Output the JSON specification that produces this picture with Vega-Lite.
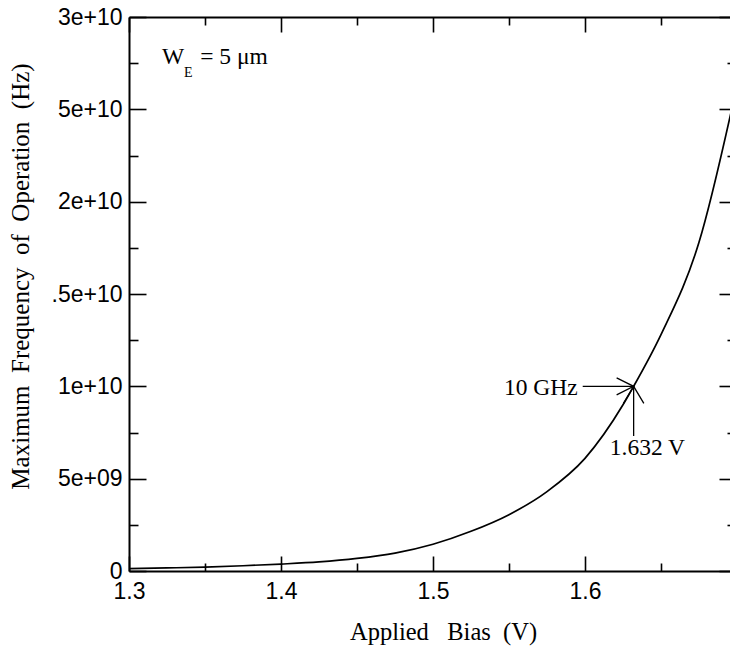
{
  "$schema": "https://vega.github.io/schema/vega-lite/v6.json",
  "width": 601,
  "height": 554,
  "autosize": {"type": "none"},
  "padding": {"left": 129, "top": 17, "right": 0, "bottom": 76},
  "background": "white",
  "config": {
    "view": {"stroke": null},
    "axis": {
      "domainColor": "black",
      "domainWidth": 2,
      "tickColor": "black",
      "tickWidth": 1.6,
      "labelColor": "black",
      "titleColor": "black",
      "grid": false,
      "labelFlush": false,
      "labelOverlap": false,
      "labelBound": false
    }
  },
  "datasets": {
    "curve": [
      {"bias": 1.300, "freq": 1.25e8},
      {"bias": 1.325, "freq": 1.65e8},
      {"bias": 1.350, "freq": 2.15e8},
      {"bias": 1.375, "freq": 2.85e8},
      {"bias": 1.400, "freq": 3.75e8},
      {"bias": 1.425, "freq": 4.90e8},
      {"bias": 1.450, "freq": 6.80e8},
      {"bias": 1.475, "freq": 9.70e8},
      {"bias": 1.500, "freq": 1.45e9},
      {"bias": 1.525, "freq": 2.15e9},
      {"bias": 1.550, "freq": 3.05e9},
      {"bias": 1.575, "freq": 4.30e9},
      {"bias": 1.600, "freq": 6.10e9},
      {"bias": 1.625, "freq": 9.00e9},
      {"bias": 1.632, "freq": 1.0e10},
      {"bias": 1.650, "freq": 1.28e10},
      {"bias": 1.675, "freq": 1.78e10},
      {"bias": 1.700, "freq": 2.63e10}
    ],
    "arrows": [
      {"x": 1.5985, "y": 1.0e10, "x2": 1.632, "y2": 1.0e10},
      {"x": 1.632, "y": 7.31e9, "x2": 1.632, "y2": 1.0e10}
    ],
    "heads": [
      {"x": 1.632, "y": 1.0e10, "dir": "right"},
      {"x": 1.632, "y": 1.0e10, "dir": "up"}
    ],
    "notesLeft": [
      {"x": 1.6163, "y": 6.28e9, "label": "1.632 V"},
      {"x": 1.3217, "y": 2.7455e10, "label": "W"},
      {"x": 1.3468, "y": 2.7455e10, "label": "= 5 μm"}
    ],
    "notesRight": [
      {"x": 1.5952, "y": 9.55e9, "label": "10 GHz"}
    ],
    "subscript": [
      {"x": 1.3362, "y": 2.675e10, "label": "E"}
    ]
  },
  "resolve": {"axis": {"x": "independent", "y": "independent"}},
  "layer": [
    {
      "data": {"name": "curve"},
      "mark": {"type": "line", "color": "black", "strokeWidth": 1.7, "clip": true, "interpolate": "monotone"},
      "encoding": {
        "x": {
          "field": "bias", "type": "quantitative",
          "scale": {"domain": [1.3, 1.6954], "nice": false, "zero": false},
          "axis": {
            "orient": "bottom",
            "values": [1.3, 1.4, 1.5, 1.6],
            "tickSize": -15,
            "labelPadding": 24,
            "labelBaseline": "top",
            "labelFont": "Liberation Sans",
            "labelFontSize": 23,
            "labelExpr": "format(datum.value, '.1f')",
            "title": "Applied\u00a0\u00a0\u00a0Bias\u00a0\u00a0(V)",
            "titleFont": "Liberation Serif",
            "titleFontSize": 24.5,
            "titleFontWeight": "normal",
            "titleX": 314,
            "titleY": 61,
            "titleAlign": "center",
            "titleBaseline": "middle"
          }
        },
        "y": {
          "field": "freq", "type": "quantitative",
          "scale": {"domain": [0, 3e10], "nice": false, "zero": false},
          "axis": {
            "orient": "left",
            "values": [0, 5e9, 1e10, 1.5e10, 2e10, 2.5e10, 3e10],
            "tickSize": -17,
            "labelPadding": 24,
            "labelFont": "Liberation Sans",
            "labelFontSize": 23,
            "labelExpr": "datum.value == 0 ? '0' : datum.value == 5e9 ? '5e+09' : datum.value == 1e10 ? '1e+10' : datum.value == 1.5e10 ? '.5e+10' : datum.value == 2e10 ? '2e+10' : datum.value == 2.5e10 ? '5e+10' : '3e+10'",
            "title": "Maximum\u00a0\u00a0Frequency\u00a0\u00a0of\u00a0\u00a0Operation\u00a0\u00a0(Hz)",
            "titleFont": "Liberation Serif",
            "titleFontSize": 25,
            "titleFontWeight": "normal",
            "titleAngle": -90,
            "titleX": -109,
            "titleY": 259,
            "titleAlign": "center",
            "titleBaseline": "middle"
          }
        }
      }
    },
    {
      "data": {"name": "arrows"},
      "mark": {"type": "rule", "color": "black", "strokeWidth": 1.3},
      "encoding": {
        "x": {
          "field": "x", "type": "quantitative",
          "scale": {"domain": [1.3, 1.6954], "nice": false, "zero": false},
          "axis": {"orient": "bottom", "values": [1.35, 1.45, 1.55, 1.65], "tickSize": -8, "labels": false, "domain": false, "title": null}
        },
        "y": {
          "field": "y", "type": "quantitative",
          "scale": {"domain": [0, 3e10], "nice": false, "zero": false},
          "axis": {"orient": "left", "values": [2.5e9, 7.5e9, 1.25e10, 1.75e10, 2.25e10, 2.75e10], "tickSize": -9, "labels": false, "domain": false, "title": null}
        },
        "x2": {"field": "x2"},
        "y2": {"field": "y2"}
      }
    },
    {
      "data": {"name": "heads"},
      "mark": {"type": "point", "filled": false, "color": "black", "strokeWidth": 1.3, "opacity": 1, "size": 1156},
      "encoding": {
        "x": {
          "field": "x", "type": "quantitative",
          "scale": {"domain": [1.3, 1.6954], "nice": false, "zero": false},
          "axis": {"orient": "top", "values": [1.3, 1.4, 1.5, 1.6], "tickSize": -15, "labels": false, "domain": true, "title": null}
        },
        "y": {
          "field": "y", "type": "quantitative",
          "scale": {"domain": [0, 3e10], "nice": false, "zero": false},
          "axis": {"orient": "right", "offset": 6, "values": [0, 5e9, 1e10, 1.5e10, 2e10, 2.5e10, 3e10], "tickSize": -17, "labels": false, "domain": true, "title": null}
        },
        "shape": {
          "field": "dir", "type": "nominal",
          "scale": {"domain": ["right", "up"], "range": ["M-1,-0.5L0,0L-1,0.5", "M-0.6,1L0,0L0.6,1"]},
          "legend": null
        }
      }
    },
    {
      "data": {"name": "notesLeft"},
      "mark": {"type": "text", "font": "Liberation Serif", "fontSize": 23.5, "color": "black", "baseline": "alphabetic", "align": "left"},
      "encoding": {
        "x": {
          "field": "x", "type": "quantitative",
          "scale": {"domain": [1.3, 1.6954], "nice": false, "zero": false},
          "axis": {"orient": "top", "values": [1.35, 1.45, 1.55, 1.65], "tickSize": -8, "labels": false, "domain": false, "title": null}
        },
        "y": {
          "field": "y", "type": "quantitative",
          "scale": {"domain": [0, 3e10], "nice": false, "zero": false},
          "axis": {"orient": "right", "offset": 6, "values": [2.5e9, 7.5e9, 1.25e10, 1.75e10, 2.25e10, 2.75e10], "tickSize": -9, "labels": false, "domain": false, "title": null}
        },
        "text": {"field": "label"}
      }
    },
    {
      "data": {"name": "notesRight"},
      "mark": {"type": "text", "font": "Liberation Serif", "fontSize": 23.5, "color": "black", "baseline": "alphabetic", "align": "right"},
      "encoding": {
        "x": {"field": "x", "type": "quantitative", "scale": {"domain": [1.3, 1.6954], "nice": false, "zero": false}, "axis": null},
        "y": {"field": "y", "type": "quantitative", "scale": {"domain": [0, 3e10], "nice": false, "zero": false}, "axis": null},
        "text": {"field": "label"}
      }
    },
    {
      "data": {"name": "subscript"},
      "mark": {"type": "text", "font": "Liberation Serif", "fontSize": 14, "color": "black", "baseline": "alphabetic", "align": "left"},
      "encoding": {
        "x": {"field": "x", "type": "quantitative", "scale": {"domain": [1.3, 1.6954], "nice": false, "zero": false}, "axis": null},
        "y": {"field": "y", "type": "quantitative", "scale": {"domain": [0, 3e10], "nice": false, "zero": false}, "axis": null},
        "text": {"field": "label"}
      }
    }
  ]
}
